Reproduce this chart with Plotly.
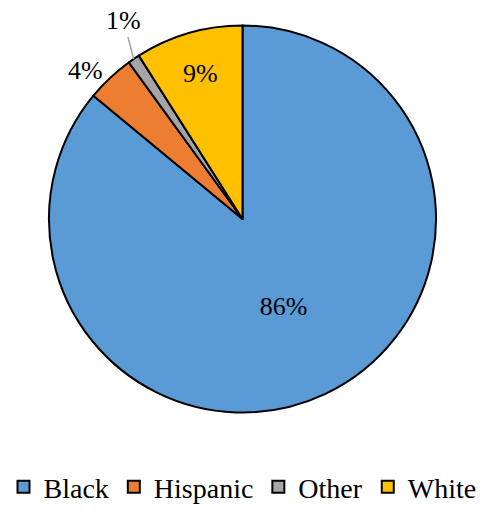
import numpy as np
import plotly.graph_objects as go

categories = ["Black", "Hispanic", "Other", "White"]
shares = [86, 4, 1, 9]
colors = ["#5B9BD5", "#ED7D31", "#A5A5A5", "#FFC000"]
positions = ["inside", "outside", "none", "inside"]

FONT = "Liberation Serif"

W, H = 485, 512
M_T, M_B = 25, 99
DOMAIN_X = [0.101, 0.899]

fig = go.Figure(
    go.Pie(
        labels=categories,
        values=shares,
        sort=False,
        direction="clockwise",
        rotation=0,
        domain=dict(x=DOMAIN_X, y=[0, 1]),
        marker=dict(colors=colors, line=dict(color="black", width=2)),
        texttemplate="%{value}%",
        textposition=positions,
        insidetextorientation="horizontal",
        textfont=dict(family=FONT, size=26, color="black"),
        hoverinfo="label+percent",
    )
)

# Callout for the thin "Other" slice: arrow tip on the rim at the slice's mid-angle
frac = np.array(shares, dtype=float) / sum(shares)
mid = np.cumsum(frac) - frac / 2
theta = 2 * np.pi * mid[2]  # clockwise from 12 o'clock
plot_h = H - M_T - M_B
radius = min((DOMAIN_X[1] - DOMAIN_X[0]) * W, plot_h) / 2
cx = (DOMAIN_X[0] + DOMAIN_X[1]) / 2
cy = 0.5
tip_x = cx + radius * np.sin(theta) / W
tip_y = cy + radius * np.cos(theta) / plot_h
fig.add_annotation(
    x=tip_x,
    y=tip_y,
    xref="paper",
    yref="paper",
    text=f"{shares[2]}%",
    showarrow=True,
    arrowhead=0,
    arrowwidth=1.5,
    arrowcolor="#A6A6A6",
    standoff=0,
    ax=-10,
    ay=-38,
    font=dict(family=FONT, size=26, color="black"),
)

fig.update_layout(
    width=W,
    height=H,
    margin=dict(l=0, r=0, t=M_T, b=M_B),
    paper_bgcolor="white",
    plot_bgcolor="white",
    font=dict(family=FONT, size=26, color="black"),
    legend=dict(
        orientation="h",
        x=0.5,
        xanchor="center",
        y=-0.024,
        yanchor="bottom",
        yref="container",
        font=dict(family=FONT, size=28, color="black"),
        itemwidth=30,
        tracegroupgap=0,
    ),
)

fig.write_html("out.html")
